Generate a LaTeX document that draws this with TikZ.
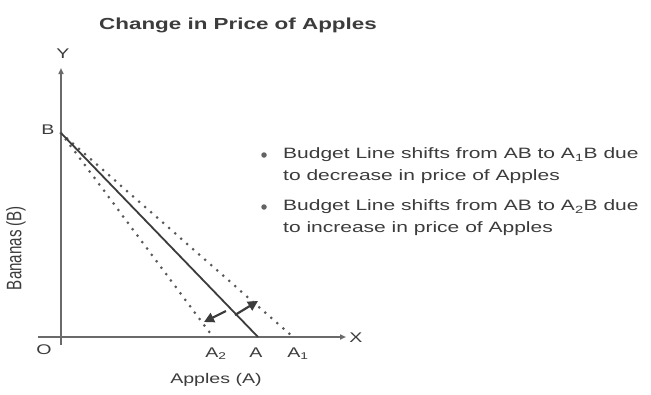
\documentclass[tikz,border=0pt]{standalone}
\usepackage{fontspec}
\setmainfont{Liberation Sans}
\newfontfamily\widefont[FakeStretch=1.4]{Liberation Sans}
\newfontfamily\narrowfont[FakeStretch=0.72]{Liberation Sans}
\usetikzlibrary{arrows.meta}
\definecolor{ink}{HTML}{3C3C3C}
\definecolor{axisc}{HTML}{6A6A6A}
\begin{document}
\begin{tikzpicture}[x=1pt,y=-1pt,
  lbl/.style={text=ink,font=\widefont\fontsize{14}{16}\selectfont,inner sep=0pt},
  vlbl/.style={text=ink,font=\narrowfont\fontsize{21}{24}\selectfont,inner sep=0pt,rotate=90},
  axisline/.style={draw=axisc,line width=1.6pt,-{Triangle[length=6pt,width=5pt]}},
  dotline/.style={draw=ink!85,line width=3pt,line cap=round,dash pattern=on 0pt off 8pt},
  budget/.style={draw=ink,line width=1.8pt},
  shiftarrow/.style={draw=ink,line width=2.2pt,-{Triangle[length=10pt,width=10pt]}},
  bodytext/.style={text=ink,font=\widefont\fontsize{15}{22}\selectfont,align=left,anchor=west,inner sep=0pt},
  bulletdot/.style={fill=ink!80,circle,inner sep=0pt,minimum size=5.5pt}]
\useasboundingbox[fill=white] (0,0) rectangle (651,394);
% title
\node[text=ink,font=\widefont\fontsize{16}{20}\selectfont\bfseries,inner sep=0pt] (title) at (238,25) {Change in Price of Apples};
% axes
\coordinate (O) at (61,337);
\coordinate (Xstart) at (38,337);
\coordinate (Xend) at (346,337);
\coordinate (Ystart) at (61,345);
\coordinate (Yend) at (61,68);
\draw[axisline] (Xstart) -- (Xend);
\draw[axisline] (Ystart) -- (Yend);
\node[lbl] (xl) at (356,338) {X};
\node[lbl] (yl) at (63,54) {Y};
\node[lbl] (ol) at (44,350) {O};
% points
\coordinate (B) at (61,133);
\coordinate (A) at (258,337);
\coordinate (A1) at (293,337);
\coordinate (A2) at (213,337);
\node[lbl] (bl) at (48,130) {B};
\node[lbl] (al) at (256,353) {A};
\node[lbl] (a1l) at (298,354) {A\textsubscript{1}};
\node[lbl] (a2l) at (216,354) {A\textsubscript{2}};
% lines
\draw[dotline] (B) -- (A2);
\draw[dotline] (B) -- (A1);
\draw[budget] (B) -- (A);
% shift arrows
\coordinate (s1) at (226,311);
\coordinate (e1) at (204,322);
\coordinate (s2) at (235,315);
\coordinate (e2) at (258,301);
\draw[shiftarrow] (s1) -- (e1);
\draw[shiftarrow] (s2) -- (e2);
% axis titles
\node[vlbl] (bananas) at (16,248) {Bananas (B)};
\node[lbl] (apples) at (216,380) {Apples (A)};
% bullets
\node[bulletdot] (b1) at (264,155) {};
\node[bulletdot] (b2) at (264,207) {};
\node[bodytext] (t1) at (283,166) {Budget Line shifts from AB to A\textsubscript{1}B due\\to decrease in price of Apples};
\node[bodytext] (t2) at (283,218) {Budget Line shifts from AB to A\textsubscript{2}B due\\to increase in price of Apples};
\end{tikzpicture}
\end{document}
